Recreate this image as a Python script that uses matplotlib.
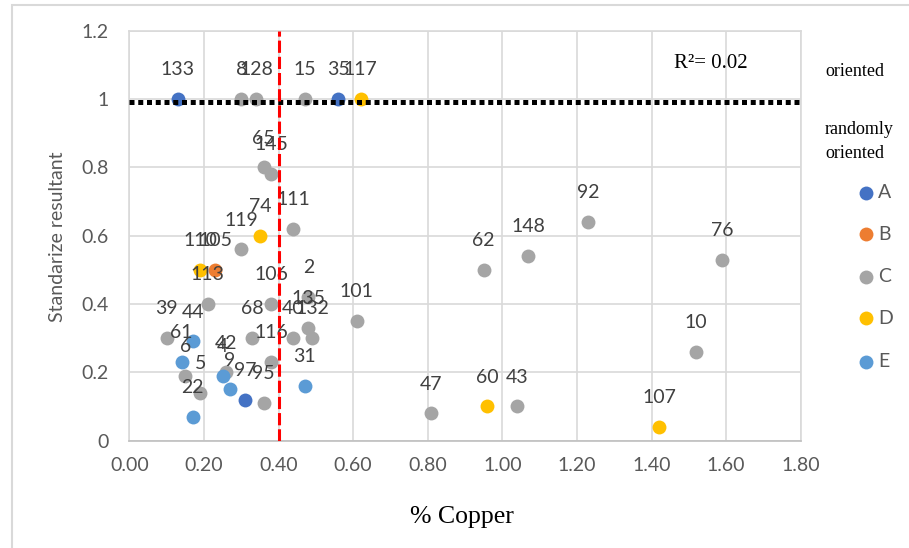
import numpy as np
import matplotlib
matplotlib.use("Agg")
import matplotlib.pyplot as plt
from matplotlib.lines import Line2D
from matplotlib.patches import Rectangle

# ---- data -------------------------------------------------------------
series_names = ["A", "B", "C", "D", "E"]
series_colors = ["#4472C4", "#ED7D31", "#A5A5A5", "#FFC000", "#5B9BD5"]

a_ids = ["133", "35", "97"]
a_copper = [0.13, 0.56, 0.31]
a_resultant = [1.00, 1.00, 0.12]

b_ids = ["105"]
b_copper = [0.23]
b_resultant = [0.50]

c_ids = ["8", "128", "15", "65", "145", "111", "119", "113", "106", "2",
         "101", "39", "6", "5", "68", "40", "135", "132", "116", "42",
         "95", "62", "148", "92", "76", "10", "47", "43"]
c_copper = [0.30, 0.34, 0.47, 0.36, 0.38, 0.44, 0.30, 0.21, 0.38, 0.48,
            0.61, 0.10, 0.15, 0.19, 0.33, 0.44, 0.48, 0.49, 0.38, 0.26,
            0.36, 0.95, 1.07, 1.23, 1.59, 1.52, 0.81, 1.04]
c_resultant = [1.00, 1.00, 1.00, 0.80, 0.78, 0.62, 0.56, 0.40, 0.40, 0.42,
               0.35, 0.30, 0.19, 0.14, 0.30, 0.30, 0.33, 0.30, 0.23, 0.20,
               0.11, 0.50, 0.54, 0.64, 0.53, 0.26, 0.08, 0.10]

d_ids = ["117", "74", "110", "60", "107"]
d_copper = [0.62, 0.35, 0.19, 0.96, 1.42]
d_resultant = [1.00, 0.60, 0.50, 0.10, 0.04]

e_ids = ["44", "61", "22", "4", "9", "31"]
e_copper = [0.17, 0.14, 0.17, 0.25, 0.27, 0.47]
e_resultant = [0.29, 0.23, 0.07, 0.19, 0.15, 0.16]

oriented_level = 0.99
copper_threshold = 0.40
r2_text = "R\u00b2= 0.02"

x_ticks = [0.0, 0.2, 0.4, 0.6, 0.8, 1.0, 1.2, 1.4, 1.6, 1.8]
x_tick_labels = ["0.00", "0.20", "0.40", "0.60", "0.80", "1.00", "1.20", "1.40", "1.60", "1.80"]
y_ticks = [0.0, 0.2, 0.4, 0.6, 0.8, 1.0, 1.2]
y_tick_labels = ["0", "0.2", "0.4", "0.6", "0.8", "1", "1.2"]

series = [
    (a_ids, a_copper, a_resultant),
    (b_ids, b_copper, b_resultant),
    (c_ids, c_copper, c_resultant),
    (d_ids, d_copper, d_resultant),
    (e_ids, e_copper, e_resultant),
]

# ---- figure -----------------------------------------------------------
W, H = 909, 548
fig = plt.figure(figsize=(W / 100, H / 100), dpi=100)
sans = "Lato"
serif = "Liberation Serif"
text_grey = "#595959"
grid_grey = "#D9D9D9"

left, right, top, bottom = 129.3, 800.7, 30.7, 440.5
ax = fig.add_axes([left / W, 1 - bottom / H, (right - left) / W, (bottom - top) / H])
ax.set_xlim(0, 1.8)
ax.set_ylim(0, 1.2)

ax.set_xticks(x_ticks)
ax.set_xticklabels(x_tick_labels)
ax.set_yticks(y_ticks)
ax.set_yticklabels(y_tick_labels)
ax.tick_params(length=0, labelsize=14, labelcolor=text_grey)
ax.tick_params(axis="x", pad=12)
ax.tick_params(axis="y", pad=15)
for lab in ax.get_xticklabels() + ax.get_yticklabels():
    lab.set_fontfamily(sans)

ax.grid(True, color=grid_grey, linewidth=1.2, zorder=0)
ax.set_axisbelow(True)
for side, sp in ax.spines.items():
    sp.set_color(grid_grey)
    sp.set_linewidth(1.2)
ax.spines["bottom"].set_color("#BFBFBF")

for (ids, xs, ys), color in zip(series, series_colors):
    ax.scatter(xs, ys, s=100, color=color, linewidths=0, zorder=3)

for ids, xs, ys in series:
    for lab, x, y in zip(ids, xs, ys):
        ax.annotate(lab, (x, y), xytext=(0, 21), textcoords="offset points",
                    ha="center", va="center", fontsize=14, color="#404040",
                    fontfamily=sans, zorder=4)

ax.axhline(oriented_level, color="black", linewidth=3.6,
           linestyle=(0, (1, 0.75)), dash_capstyle="butt", zorder=5)
ax.axvline(copper_threshold, color="#FF0000", linewidth=2.2,
           linestyle=(0, (4, 1.3)), dash_capstyle="butt", zorder=5)

ax.text(1.56, 1.105, r2_text, fontsize=15, fontfamily=serif,
        ha="center", va="center", color="black")

# axis titles
fig.text(58 / W, 1 - 237 / H, "Standarize resultant", rotation=90,
         ha="center", va="center", fontsize=14, color=text_grey, fontfamily=sans)
fig.text(462 / W, 1 - 517 / H, "% Copper", ha="center", va="center",
         fontsize=18.5, color="black", fontfamily=serif)

# legend on the right
fig.text(825 / W, 1 - 71.7 / H, "oriented", ha="left", va="center",
         fontsize=13, fontfamily=serif, color="black")
fig.text(825 / W, 1 - 129 / H, "randomly", ha="left", va="center",
         fontsize=13, fontfamily=serif, color="black")
fig.text(825 / W, 1 - 153 / H, "oriented", ha="left", va="center",
         fontsize=13, fontfamily=serif, color="black")
legend_rows = [192.7, 234.3, 276.7, 318.3, 361.7]
for name, color, yrow in zip(series_names, series_colors, legend_rows):
    fig.add_artist(Line2D([866 / W], [1 - yrow / H], marker="o", markersize=10,
                          color=color, linestyle="none", markeredgewidth=0,
                          transform=fig.transFigure))
    fig.text(878 / W, 1 - yrow / H, name, ha="left", va="center",
             fontsize=14, color=text_grey, fontfamily=sans)

# outer chart frame
fig.add_artist(Rectangle((12 / W, -0.1), 1.2, 1 - 5 / H + 0.1,
                         transform=fig.transFigure, fill=False,
                         edgecolor=grid_grey, linewidth=1.5))

fig.savefig("out.png", dpi=100)
